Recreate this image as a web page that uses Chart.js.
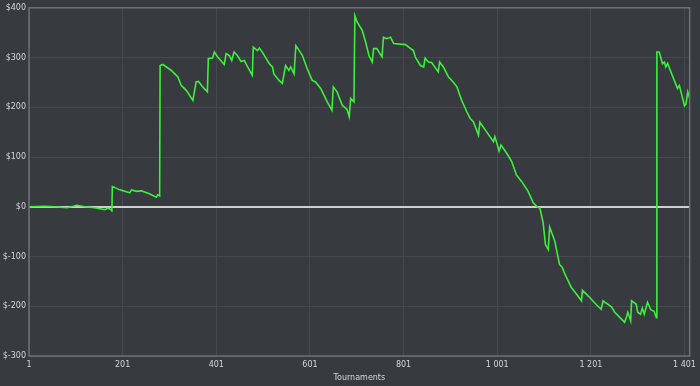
<!DOCTYPE html>
<html><head><meta charset="utf-8">
<script src="https://cdn.jsdelivr.net/npm/chart.js@4/dist/chart.umd.min.js"></script>
<style>html,body{margin:0;padding:0;background:#373a3e;}#wrap{width:700px;height:386px;}</style>
</head><body><div id="wrap"><canvas id="c"></canvas></div>
<script>
const tournaments = [1,35,56,82,92,103,120,141,163,169,173,178,179,195,216,220,230,241,258,273,276,280,281,287,305,319,326,337,351,358,363,372,382,384,393,397,404,418,422,429,434,439,446,454,461,468,478,480,489,493,500,514,521,524,535,542,549,556,560,567,571,578,585,595,606,613,624,638,648,651,659,670,680,685,688,695,697,702,713,720,727,734,737,744,755,758,765,773,780,805,812,822,826,837,844,847,854,861,875,878,886,897,907,915,925,936,943,950,961,964,978,993,996,1005,1009,1021,1032,1042,1053,1067,1078,1087,1092,1099,1104,1110,1113,1124,1134,1140,1144,1149,1159,1173,1181,1183,1195,1213,1223,1227,1245,1252,1273,1277,1280,1286,1288,1298,1301,1307,1311,1315,1322,1329,1336,1341,1342,1347,1354,1358,1361,1365,1375,1386,1390,1397,1401,1404,1408,1412];
const profit = [0,1,0,-2,0,3,0,-2,-6,-3,-4,-8,41,34,28,34,31,32,26,19,24,22,284,286,274,261,244,234,214,251,252,241,231,298,299,311,301,286,308,304,294,311,304,292,294,281,264,321,314,319,310,288,281,267,254,248,284,274,281,267,324,314,304,278,254,251,238,211,194,241,231,204,196,181,218,211,384,371,354,331,304,291,318,318,301,341,338,341,328,326,321,314,301,284,281,299,291,290,271,291,281,261,251,241,214,191,178,171,144,170,151,131,141,112,124,108,91,64,51,31,8,-1,-2,-32,-76,-86,-41,-69,-116,-122,-132,-142,-162,-179,-189,-168,-179,-197,-206,-189,-201,-212,-232,-222,-212,-229,-189,-196,-212,-216,-204,-216,-192,-207,-210,-223,311,311,288,291,281,288,264,238,244,218,203,206,231,218];
const xTicks = [1,201,401,601,801,1001,1201,1401];
const yTicks = [-300,-200,-100,0,100,200,300,400];
const xTitle = 'Tournaments';

const points = tournaments.map((t,i)=>({x:t,y:profit[i]}));
const fmtThousands = v => String(v).replace(/\B(?=(\d{3})+(?!\d))/g,' ');
const font = {family:'"DejaVu Sans", Verdana, sans-serif', size:8};

const borderPlugin = {
  id:'box',
  afterDraw(chart){
    const {ctx, chartArea:a} = chart;
    ctx.save();
    ctx.strokeStyle = '#6e7175';
    ctx.lineWidth = 1.5;
    ctx.strokeRect(a.left, a.top, a.right-a.left, a.bottom-a.top);
    ctx.restore();
  }
};
const bgPlugin = {
  id:'bg',
  beforeDraw(chart){
    const ctx = chart.ctx;
    ctx.save(); ctx.fillStyle='#373a3e'; ctx.fillRect(0,0,chart.width,chart.height); ctx.restore();
  }
};

new Chart(document.getElementById('c'), {
  type:'line',
  data:{datasets:[{data:points, borderColor:'#3cf03c', borderWidth:1.6, pointRadius:0, tension:0, fill:false}]},
  options:{
    responsive:true, maintainAspectRatio:false, animation:false,
    layout:{padding:{left:0,right:6,top:3,bottom:0}},
    plugins:{legend:{display:false}, tooltip:{enabled:false}},
    scales:{
      x:{type:'linear', min:1, max:1412,
        afterBuildTicks(s){ s.ticks = xTicks.map(v=>({value:v})); },
        afterFit(s){ s.height = 30; },
        ticks:{color:'#d6d6d6', font, padding:4, maxRotation:0, autoSkip:false, callback:v=>fmtThousands(v)},
        grid:{color:'#45484c', lineWidth:1, drawTicks:false},
        border:{display:false},
        title:{display:true, text:xTitle, color:'#d6d6d6', font, padding:{top:3,bottom:3}}
      },
      y:{type:'linear', min:-300, max:400,
        afterBuildTicks(s){ s.ticks = yTicks.map(v=>({value:v})); },
        afterFit(s){ s.width = 29; },
        ticks:{color:'#d6d6d6', font, padding:3, callback:v=>'$'+v},
        grid:{color:c=>c.tick && c.tick.value===0 ? '#cfcfcf' : '#45484c', lineWidth:c=>c.tick && c.tick.value===0 ? 2 : 1, drawTicks:false},
        border:{display:false}
      }
    }
  },
  plugins:[bgPlugin, borderPlugin]
});
</script></body></html>
